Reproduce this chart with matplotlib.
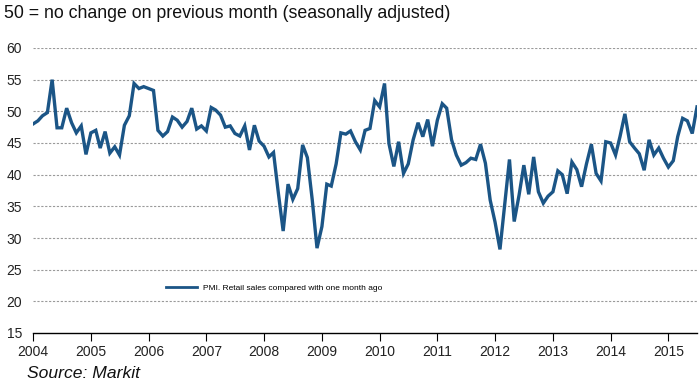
import matplotlib
matplotlib.use("Agg")
import matplotlib.pyplot as plt
import pandas as pd

# Monthly PMI values (seasonally adjusted), Jan 2004 - Jul 2015
pmi_2004 = [48.0, 48.5, 49.3, 49.8, 55.0, 47.4, 47.4, 50.5, 48.2, 46.6, 47.7, 43.2]
pmi_2005 = [46.6, 47.0, 44.2, 46.8, 43.4, 44.4, 43.1, 47.8, 49.3, 54.4, 53.6, 53.9]
pmi_2006 = [53.6, 53.3, 47.0, 46.1, 46.8, 49.1, 48.6, 47.5, 48.4, 50.5, 47.2, 47.7]
pmi_2007 = [46.9, 50.6, 50.2, 49.4, 47.5, 47.7, 46.5, 46.1, 47.7, 43.9, 47.8, 45.3]
pmi_2008 = [44.5, 42.8, 43.5, 37.0, 31.1, 38.5, 36.1, 37.8, 44.7, 42.7, 36.0, 28.4]
pmi_2009 = [31.8, 38.5, 38.2, 41.7, 46.6, 46.4, 46.9, 45.2, 43.9, 47.0, 47.3, 51.7]
pmi_2010 = [50.7, 54.4, 44.9, 41.3, 45.2, 40.2, 41.7, 45.5, 48.2, 46.0, 48.7, 44.5]
pmi_2011 = [48.6, 51.2, 50.5, 45.5, 43.1, 41.5, 41.9, 42.6, 42.4, 44.8, 41.8, 36.0]
pmi_2012 = [32.5, 28.2, 35.0, 42.4, 32.6, 36.8, 41.5, 36.9, 42.8, 37.3, 35.5, 36.6]
pmi_2013 = [37.3, 40.6, 40.0, 37.0, 42.0, 40.8, 38.1, 41.7, 44.8, 40.2, 39.0, 45.2]
pmi_2014 = [45.0, 43.1, 46.0, 49.6, 45.2, 44.2, 43.3, 40.7, 45.5, 43.1, 44.2, 42.6]
pmi_2015 = [41.2, 42.2, 46.0, 48.9, 48.5, 46.5, 50.7]

series_label = "PMI. Retail sales compared with one month ago"
title_text = "50 = no change on previous month (seasonally adjusted)"
source_text = "Source: Markit"
y_ticks = [15, 20, 25, 30, 35, 40, 45, 50, 55, 60]
year_ticks = list(range(2004, 2016))

values = (pmi_2004 + pmi_2005 + pmi_2006 + pmi_2007 + pmi_2008 + pmi_2009 +
          pmi_2010 + pmi_2011 + pmi_2012 + pmi_2013 + pmi_2014 + pmi_2015)
dates = pd.date_range("2004-01-01", periods=len(values), freq="MS")

plt.rcParams["font.family"] = ["Liberation Sans", "DejaVu Sans"]

W, H = 700, 388
fig = plt.figure(figsize=(W / 100, H / 100), dpi=100)
left, right, top, bottom = 33, 697, 48, 333
ax = fig.add_axes([left / W, (H - bottom) / H, (right - left) / W, (bottom - top) / H])

line_color = "#1b5586"
ax.plot(dates, values, color=line_color, lw=2.4, solid_joinstyle="miter", label=series_label, zorder=3)

ax.set_ylim(15, 60)
ax.set_xlim(dates[0], dates[-1])
ax.set_yticks(y_ticks)
ax.set_xticks([pd.Timestamp(f"{y}-01-01") for y in year_ticks])
ax.set_xticklabels([str(y) for y in year_ticks])

for v in y_ticks[1:]:
    ax.axhline(v, color="#9a9a9a", lw=0.8, ls=(0, (2, 1.5)), zorder=1)

for s in ["top", "right", "left"]:
    ax.spines[s].set_visible(False)
ax.spines["bottom"].set_color("black")
ax.spines["bottom"].set_linewidth(1.0)
ax.tick_params(axis="y", length=0, pad=8, labelsize=10, labelcolor="#222222")
ax.tick_params(axis="x", direction="out", length=6, width=0.8, pad=3, labelsize=10, labelcolor="#222222")

leg = ax.legend(loc="center left", bbox_to_anchor=(0.2, 0.158), frameon=False,
                fontsize=6, handlelength=3.7, handletextpad=0.8,
                borderpad=0, borderaxespad=0)
leg.get_lines()[0].set_linewidth(2.0)

fig.text(4 / W, 1 - 14 / H, title_text, fontsize=12.8, ha="left", va="center", color="#111111")
fig.text(27 / W, 1 - 374 / H, source_text, fontsize=12.6, style="italic", ha="left", va="center", color="#111111")

fig.savefig("out.png", dpi=100)
